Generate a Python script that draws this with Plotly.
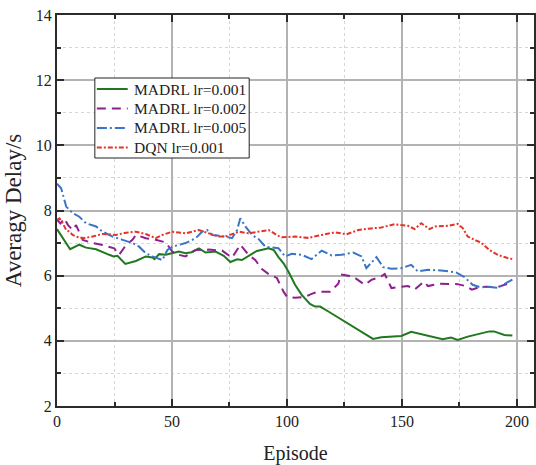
import plotly.graph_objects as go

# Average delay per training episode for each learning setup
green_x = [0, 2, 5.7, 9.7, 12.6, 17, 20.6, 22.7, 24.6, 26.3, 29.7, 34.3, 38.6, 41.5, 42.4, 44.4, 47.3,
           50.1, 53, 55.9, 58.5, 61.7, 64.6, 68.9, 72.5, 75.4, 78.3, 80.4, 83.3, 86.9, 92, 94.2, 96.3,
           98.5, 100.6, 103.5, 106.4, 110, 112.2, 114.4, 118, 125.2, 131, 135.3, 137.4, 141, 145.4,
           149.7, 154, 158.4, 162.7, 167.7, 171.3, 174.2, 178.6, 182.9, 188, 190, 194.5, 198]
green_y = [7.43, 7.2, 6.81, 6.95, 6.86, 6.81, 6.69, 6.64, 6.59, 6.61, 6.36, 6.45, 6.59, 6.56, 6.51, 6.66,
           6.64, 6.69, 6.74, 6.69, 6.72, 6.84, 6.71, 6.74, 6.61, 6.42, 6.50, 6.48, 6.61, 6.76, 6.84, 6.79,
           6.57, 6.38, 6.13, 5.72, 5.41, 5.13, 5.05, 5.05, 4.90, 4.59, 4.34, 4.13, 4.06, 4.11, 4.13, 4.15,
           4.28, 4.21, 4.15, 4.05, 4.10, 4.03, 4.13, 4.21, 4.29, 4.29, 4.18, 4.16]

purple_x = [0, 1.5, 3.2, 4.7, 6.8, 8.3, 11.2, 15.5, 19.8, 24.9, 27, 30, 32.8, 34.3, 38.6, 42.9, 47.3,
            50.1, 53, 55.9, 60.3, 66, 71.8, 76.1, 79.7, 83.3, 86.2, 89.1, 92, 95.6, 98.5, 99.9, 103.5,
            107.9, 110.7, 113.6, 118.7, 122.3, 123.4, 128.8, 133.8, 136.7, 141, 142.5, 145.4, 148.3,
            152.6, 155.5, 159.5, 161.3, 165.6, 174.2, 177.8, 180.4, 184.3, 191.6, 194.5, 198]
purple_y = [7.72, 7.6, 7.76, 7.56, 7.40, 7.55, 7.10, 7.00, 6.94, 6.84, 6.64, 6.94, 7.10, 7.25, 7.15, 7.10,
            7.02, 6.74, 6.64, 6.59, 6.79, 6.80, 6.77, 6.55, 6.95, 6.64, 6.48, 6.20, 6.05, 5.93, 5.51, 5.36,
            5.32, 5.35, 5.44, 5.51, 5.51, 5.75, 6.04, 5.97, 5.72, 5.87, 5.98, 6.05, 5.62, 5.65, 5.68, 5.57,
            5.82, 5.68, 5.75, 5.74, 5.68, 5.57, 5.66, 5.65, 5.72, 5.80]

blue_x = [0, 1.8, 2.8, 4, 6.8, 9.7, 12.6, 17, 19.8, 24.2, 28.5, 32.8, 35.7, 38.6, 41.5, 44.4, 45.8, 48,
          50.1, 55.9, 60.3, 63.1, 65.3, 67.4, 73.2, 76.1, 78.3, 79.7, 81.9, 84.8, 87.7, 90.6, 94.2, 96.3,
          99.2, 102.1, 106.4, 110.7, 115.1, 119.4, 123.7, 128.8, 132.4, 134.5, 138.9, 141.8, 145.4, 149.7,
          154, 156.9, 161.3, 167, 173.5, 177.1, 180.7, 184.3, 187.2, 191.6, 194.5, 198]
blue_y = [8.82, 8.68, 8.43, 8.12, 7.92, 7.81, 7.61, 7.51, 7.35, 7.20, 7.10, 7.00, 6.89, 6.69, 6.59, 6.51,
          6.48, 6.79, 6.89, 7.00, 7.15, 7.35, 7.40, 7.25, 7.20, 7.15, 7.40, 7.76, 7.51, 7.25, 7.12, 6.89,
          6.86, 6.84, 6.59, 6.67, 6.64, 6.51, 6.77, 6.62, 6.64, 6.71, 6.59, 6.23, 6.57, 6.26, 6.21, 6.23,
          6.33, 6.13, 6.18, 6.16, 6.10, 5.96, 5.72, 5.64, 5.66, 5.63, 5.74, 5.88]

red_x = [0, 1.1, 2.5, 4, 5.4, 6.8, 8.3, 11.2, 15.5, 19.8, 25.6, 30, 34.3, 38.6, 42.9, 45.8, 50.1, 55.9,
         61.7, 66, 70.3, 73.2, 79, 83.3, 87.7, 92, 96.3, 97.7, 103.5, 109.3, 115.1, 120.9, 125.9, 131,
         136.7, 141, 146.8, 152.6, 155.5, 158.4, 162, 164.2, 169.9, 174.2, 176.4, 178.6, 182.2, 184.3,
         188, 191.6, 195.9, 198]
red_y = [7.71, 7.76, 7.61, 7.40, 7.35, 7.25, 7.20, 7.15, 7.20, 7.28, 7.25, 7.32, 7.35, 7.28, 7.15, 7.25,
         7.35, 7.30, 7.40, 7.30, 7.20, 7.20, 7.35, 7.30, 7.35, 7.40, 7.22, 7.18, 7.20, 7.16, 7.25, 7.33,
         7.27, 7.40, 7.45, 7.48, 7.58, 7.53, 7.43, 7.61, 7.43, 7.51, 7.53, 7.59, 7.46, 7.20, 7.08, 7.02,
         6.79, 6.64, 6.54, 6.51]

series_names = ["MADRL lr=0.001", "MADRL lr=0.002", "MADRL lr=0.005", "DQN lr=0.001"]
x_ticks = [0, 50, 100, 150, 200]
y_ticks = [2, 4, 6, 8, 10, 12, 14]

SERIF = "Liberation Serif, Times New Roman, serif"
INK = "#222222"

styles = [
    dict(color="#217821", dash="solid"),
    dict(color="#8e1f8e", dash="9px,6px"),
    dict(color="#3a74c6", dash="10px,3px,2px,3px"),
    dict(color="#e6332a", dash="5px,2px,2px,2px"),
]

W, H = 536, 465
M_L, M_R, M_T, M_B = 57, 0, 15, 59
plot_w = W - M_L - M_R
plot_h = H - M_T - M_B


def px_to_paper(px, py):
    """Convert a pixel position in the page to paper coordinates."""
    return (px - M_L) / plot_w, (H - M_B - py) / plot_h


fig = go.Figure()
for name, xs, ys, st in zip(series_names,
                            [green_x, purple_x, blue_x, red_x],
                            [green_y, purple_y, blue_y, red_y],
                            styles):
    fig.add_trace(go.Scatter(x=xs, y=ys, mode="lines", name=name, showlegend=False,
                             line=dict(color=st["color"], dash=st["dash"], width=2)))

# Compact boxed legend drawn in paper space
shapes = []
annotations = []
bx0, by0 = px_to_paper(95, 158)
bx1, by1 = px_to_paper(250, 78)
shapes.append(dict(type="rect", xref="paper", yref="paper", x0=bx0, y0=by0, x1=bx1, y1=by1,
                   line=dict(color=INK, width=1), fillcolor="white", layer="above"))
row_y = [89, 108.5, 128, 147.5]
for name, st, ry in zip(series_names, styles, row_y):
    lx0, ly = px_to_paper(97, ry)
    lx1, _ = px_to_paper(128, ry)
    shapes.append(dict(type="line", xref="paper", yref="paper", x0=lx0, x1=lx1, y0=ly, y1=ly,
                       line=dict(color=st["color"], dash=st["dash"], width=2), layer="above"))
    tx, ty = px_to_paper(132, ry)
    annotations.append(dict(text=name, xref="paper", yref="paper", x=tx, y=ty,
                            xanchor="left", yanchor="middle", showarrow=False,
                            font=dict(family=SERIF, size=15.5, color=INK)))

axis_common = dict(
    showline=True, linewidth=2, linecolor="#2b2b2b", mirror="ticks",
    ticks="inside", ticklen=7, tickwidth=2, tickcolor="#2b2b2b",
    showgrid=True, gridcolor="#b3b3b3", gridwidth=1.5, zeroline=False,
    tickfont=dict(family=SERIF, size=16, color=INK),
)

fig.update_xaxes(
    range=[0, 207.4], tickvals=x_ticks,
    minor=dict(tick0=25, dtick=50, showgrid=True, gridcolor="#d6d6d6", griddash="dot",
               gridwidth=1, ticks="inside", ticklen=4, tickwidth=1.5, tickcolor="#2b2b2b"),
    title=dict(text="Episode", font=dict(family=SERIF, size=20, color=INK), standoff=17),
    **axis_common,
)
fig.update_yaxes(
    range=[2, 14], tickvals=y_ticks,
    minor=dict(tick0=3, dtick=2, showgrid=True, gridcolor="#d6d6d6", griddash="dot",
               gridwidth=1, ticks="inside", ticklen=4, tickwidth=1.5, tickcolor="#2b2b2b"),
    title=dict(text="Averagy Delay/s", font=dict(family=SERIF, size=23, color=INK), standoff=8),
    **axis_common,
)

fig.update_layout(
    width=W, height=H,
    margin=dict(l=M_L, r=M_R, t=M_T, b=M_B),
    paper_bgcolor="white", plot_bgcolor="white",
    font=dict(family=SERIF, color=INK),
    showlegend=False,
    shapes=shapes,
    annotations=annotations,
)

fig.write_html("out.html")
